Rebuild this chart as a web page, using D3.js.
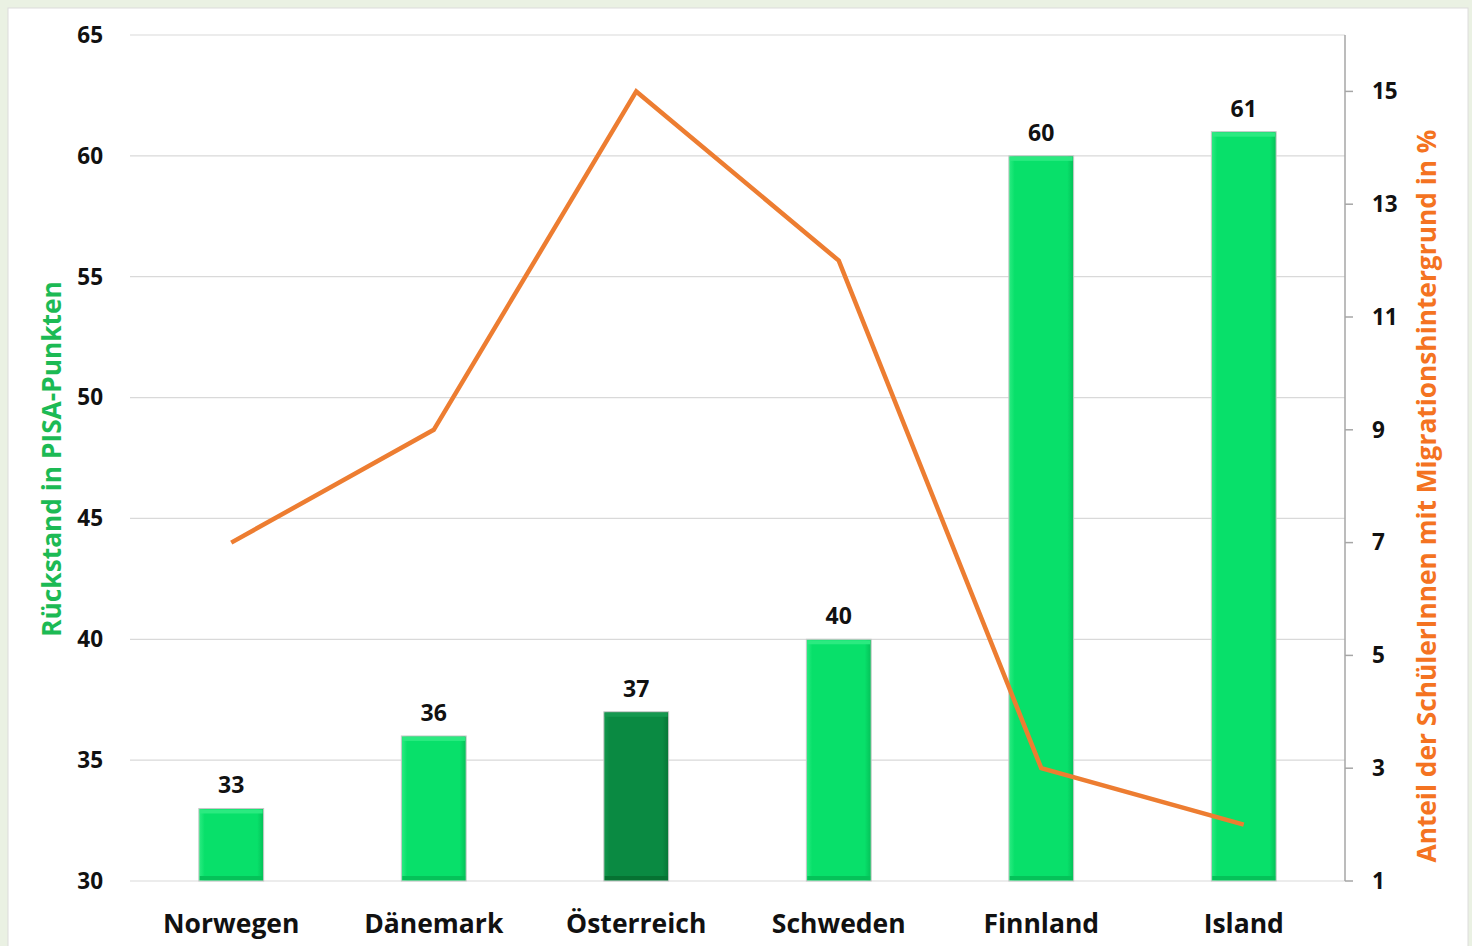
<!DOCTYPE html>
<html>
<head>
<meta charset="utf-8">
<script src="https://cdn.jsdelivr.net/npm/d3@7"></script>
<style>
  html, body { margin:0; padding:0; background:#eaf1e3; }
  svg { display:block; font-family:"Open Sans", sans-serif; }
</style>
</head>
<body>
<div id="chart"></div>
<script>
var countries = ['Norwegen','Dänemark','Österreich','Schweden','Finnland','Island']
var rueckstand = [33, 36, 37, 40, 60, 61]
var migration = [7, 9, 15, 12, 3, 2]
var leftTicks = [30, 35, 40, 45, 50, 55, 60, 65]
var rightTicks = [1, 3, 5, 7, 9, 11, 13, 15]
var highlight = 'Österreich'

var W = 1472, H = 946
var m = {left:130, right:1345, top:35, bottom:881}

var svg = d3.select('#chart').append('svg')
  .attr('width', W).attr('height', H)

svg.append('rect').attr('x', 8).attr('y', 8).attr('width', 1460).attr('height', H)
  .attr('fill', '#fff').attr('stroke', '#dcdcdc')

var x = d3.scaleBand().domain(countries).range([m.left, m.right]).paddingInner(0.68).paddingOuter(0.34)
var xc = d3.scaleBand().domain(countries).range([m.left, m.right])
var yL = d3.scaleLinear().domain([30, 65]).range([m.bottom, m.top])
var yR = d3.scaleLinear().domain([1, 16]).range([m.bottom, m.top])

// grid
svg.append('g').selectAll('line').data(leftTicks).enter().append('line')
  .attr('x1', m.left).attr('x2', m.right)
  .attr('y1', function(d){ return yL(d) }).attr('y2', function(d){ return yL(d) })
  .attr('stroke', '#d9d9d9').attr('stroke-width', 1.2)

// left tick labels
svg.append('g').selectAll('text').data(leftTicks).enter().append('text')
  .attr('x', 103).attr('y', function(d){ return yL(d) })
  .attr('dy', '0.35em').attr('text-anchor', 'end')
  .attr('font-size', 22.5).attr('font-weight', 700).attr('fill', '#111')
  .text(function(d){ return d })

// right axis
var gR = svg.append('g').attr('transform', 'translate(' + m.right + ',0)')
gR.append('line').attr('y1', m.top).attr('y2', m.bottom).attr('stroke', '#a6a6a6').attr('stroke-width', 1.5)
gR.selectAll('line.tk').data(rightTicks).enter().append('line').attr('class', 'tk')
  .attr('x1', 0).attr('x2', 8)
  .attr('y1', function(d){ return yR(d) }).attr('y2', function(d){ return yR(d) })
  .attr('stroke', '#a6a6a6').attr('stroke-width', 1.5)
gR.selectAll('text').data(rightTicks).enter().append('text')
  .attr('x', 27).attr('y', function(d){ return yR(d) })
  .attr('dy', '0.35em').attr('text-anchor', 'start')
  .attr('font-size', 22.5).attr('font-weight', 700).attr('fill', '#111')
  .text(function(d){ return d })

// bar gradients (bevel look)
var defs = svg.append('defs')
function bevel(id, base, light, dark){
  var g = defs.append('linearGradient').attr('id', id).attr('x1', 0).attr('x2', 1).attr('y1', 0).attr('y2', 0)
  g.append('stop').attr('offset', '0%').attr('stop-color', light)
  g.append('stop').attr('offset', '9%').attr('stop-color', base)
  g.append('stop').attr('offset', '90%').attr('stop-color', base)
  g.append('stop').attr('offset', '100%').attr('stop-color', dark)
}
bevel('gBright', '#08e06a', '#2cec82', '#05c058')
bevel('gDark', '#0a8a42', '#12994d', '#067535')

var bars = svg.append('g').selectAll('g').data(countries).enter().append('g')
bars.append('rect')
  .attr('x', function(d){ return x(d) })
  .attr('y', function(d, i){ return yL(rueckstand[i]) })
  .attr('width', x.bandwidth())
  .attr('height', function(d, i){ return yL(30) - yL(rueckstand[i]) })
  .attr('fill', function(d){ return d === highlight ? 'url(#gDark)' : 'url(#gBright)' })
  .attr('stroke', '#c8c8c8').attr('stroke-width', 1)
// top highlight & bottom shade
bars.append('rect')
  .attr('x', function(d){ return x(d) + 1 })
  .attr('y', function(d, i){ return yL(rueckstand[i]) + 1 })
  .attr('width', x.bandwidth() - 2).attr('height', 4)
  .attr('fill', function(d){ return d === highlight ? '#15984f' : '#2bea80' })
bars.append('rect')
  .attr('x', function(d){ return x(d) + 1 })
  .attr('y', yL(30) - 5)
  .attr('width', x.bandwidth() - 2).attr('height', 4)
  .attr('fill', function(d){ return d === highlight ? '#067232' : '#05c259' })

// data labels
svg.append('g').selectAll('text').data(countries).enter().append('text')
  .attr('x', function(d){ return x(d) + x.bandwidth() / 2 })
  .attr('y', function(d, i){ return yL(rueckstand[i]) - 15 })
  .attr('text-anchor', 'middle')
  .attr('font-size', 23).attr('font-weight', 700).attr('fill', '#111')
  .text(function(d, i){ return rueckstand[i] })

// line
var line = d3.line()
  .x(function(d, i){ return xc(countries[i]) + xc.bandwidth() / 2 })
  .y(function(d){ return yR(d) })
svg.append('path').datum(migration).attr('d', line)
  .attr('fill', 'none').attr('stroke', '#ed7d31').attr('stroke-width', 4.5)
  .attr('stroke-linejoin', 'miter')

// category labels
svg.append('g').selectAll('text').data(countries).enter().append('text')
  .attr('x', function(d){ return xc(d) + xc.bandwidth() / 2 })
  .attr('y', 933)
  .attr('text-anchor', 'middle')
  .attr('font-size', 26.5).attr('font-weight', 700).attr('fill', '#111')
  .text(function(d){ return d })

// axis titles
svg.append('text')
  .attr('transform', 'translate(61,459) rotate(-90)')
  .attr('text-anchor', 'middle')
  .attr('font-size', 26.3).attr('font-weight', 700).attr('fill', '#1cba54')
  .text('Rückstand in PISA-Punkten')
svg.append('text')
  .attr('transform', 'translate(1436,496) rotate(-90)')
  .attr('text-anchor', 'middle')
  .attr('font-size', 26.3).attr('font-weight', 700).attr('fill', '#f47321')
  .text('Anteil der SchülerInnen mit Migrationshintergrund  in %')
</script>
</body>
</html>
